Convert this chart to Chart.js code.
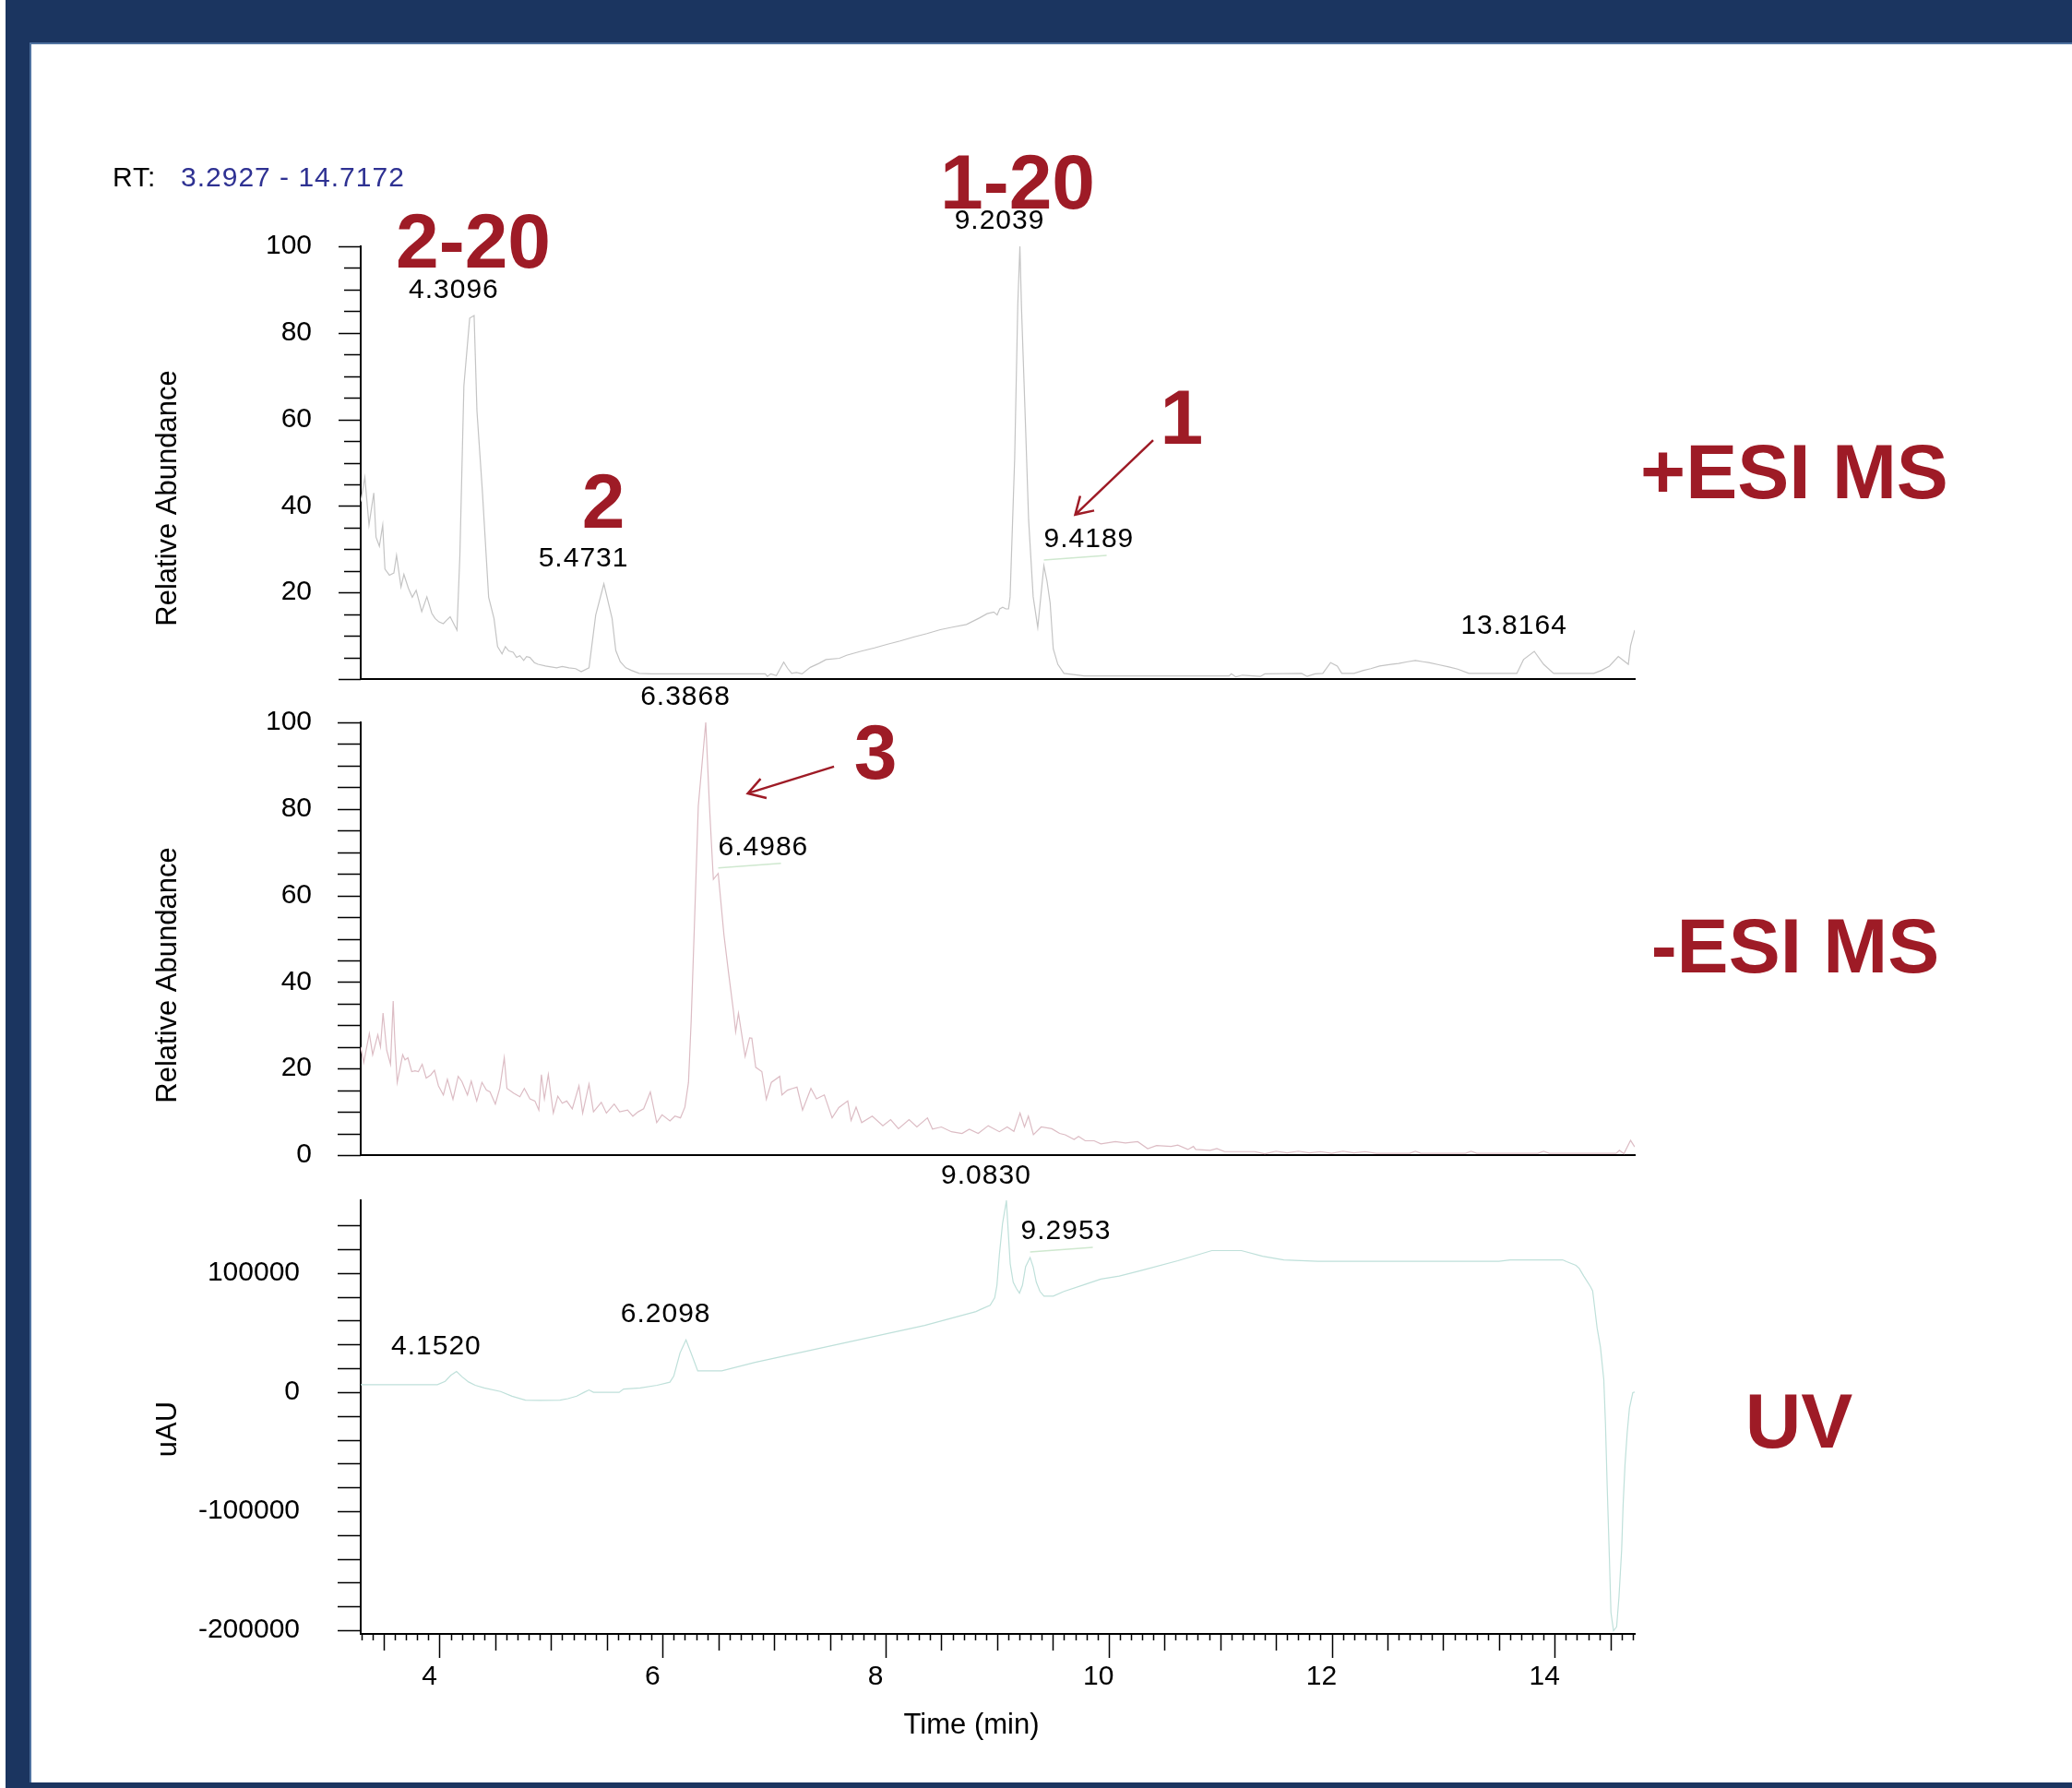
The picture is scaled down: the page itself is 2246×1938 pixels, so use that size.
<!DOCTYPE html>
<html>
<head>
<meta charset="utf-8">
<script src="https://cdn.jsdelivr.net/npm/chart.js@4.4.1/dist/chart.umd.min.js"></script>
<style>
  html, body { margin: 0; padding: 0; background: #fff; }
  body { width: 2246px; height: 1938px; position: relative; overflow: hidden; }
  .navy { position: absolute; background: #1b3560; }
  .edge { position: absolute; background: #5073a0; }
  canvas { position: absolute; left: 0; top: 0; }
</style>
</head>
<body>
<div class="navy" style="left:6px;top:0;width:26px;height:1938px"></div>
<div class="edge" style="left:32px;top:46px;width:2px;height:1886px"></div>
<div class="navy" style="left:32px;top:0;width:2214px;height:46px"></div>
<div class="edge" style="left:34px;top:46px;width:2212px;height:2px"></div>
<div class="navy" style="left:6px;top:1932px;width:2240px;height:6px"></div>

<canvas id="posChart" width="2246" height="1938"></canvas>
<canvas id="negChart" width="2246" height="1938"></canvas>
<canvas id="uvChart" width="2246" height="1938"></canvas>

<script>
// +ESI MS trace: retention time (min) and relative abundance (%)
const posTime = [3.2927, 3.33, 3.367, 3.41, 3.43, 3.46, 3.49, 3.51, 3.55, 3.59,
  3.614, 3.654, 3.68, 3.72, 3.755, 3.79, 3.84, 3.886, 3.93, 3.96,
  3.995, 4.034, 4.06, 4.095, 4.156, 4.182, 4.218, 4.27, 4.3096, 4.335,
  4.384, 4.44, 4.488, 4.52, 4.56, 4.59, 4.62, 4.66, 4.69, 4.72,
  4.754, 4.78, 4.81, 4.85, 4.883, 4.95, 5.05, 5.1, 5.16, 5.22,
  5.27, 5.34, 5.4, 5.4731, 5.547, 5.58, 5.62, 5.67, 5.72, 5.79,
  5.9, 6.5, 6.92, 6.94, 6.97, 7.02, 7.086, 7.12, 7.157, 7.2,
  7.25, 7.324, 7.4, 7.465, 7.585, 7.65, 7.775, 7.9, 8.01, 8.13,
  8.25, 8.37, 8.49, 8.6, 8.725, 8.84, 8.91, 8.97, 9.0, 9.023,
  9.05, 9.078, 9.102, 9.116, 9.157, 9.185, 9.2039, 9.218, 9.255, 9.282,
  9.323, 9.364, 9.4189, 9.447, 9.475, 9.503, 9.544, 9.599, 9.7, 9.78,
  10.5, 11.08, 11.1, 11.14, 11.2, 11.36, 11.4, 11.73, 11.78, 11.85,
  11.92, 11.99, 12.05, 12.09, 12.2, 12.285, 12.35, 12.43, 12.53, 12.6,
  12.68, 12.75, 12.82, 12.87, 12.96, 13.05, 13.13, 13.23, 13.66, 13.72,
  13.8164, 13.9, 13.99, 14.35, 14.42, 14.49, 14.57, 14.66, 14.68, 14.7172];
const posAbund = [41, 46.6, 35.6, 43, 32.8, 30.7, 35.6, 25.4, 24, 24.5,
  28.6, 21.3, 24.2, 21, 18.9, 20.5, 15.6, 19, 15.2, 14,
  13.2, 12.8, 13.5, 14.4, 11.3, 28.6, 67.8, 83.4, 84, 62,
  43.3, 18.9, 14, 7.5, 5.8, 7.5, 6.5, 6.2, 5, 5.4,
  4.3, 5.2, 5, 3.8, 3.4, 3, 2.6, 2.9, 2.6, 2.4,
  1.7, 2.6, 14.8, 22, 14, 6.6, 4, 2.6, 2, 1.3,
  1.2, 1.2, 1.2, 0.6, 1.2, 0.8, 3.9, 2.5, 1.3, 1.5,
  1.2, 2.7, 3.6, 4.5, 4.8, 5.5, 6.4, 7.2, 8, 8.8,
  9.7, 10.5, 11.4, 12, 12.6, 14.1, 15.1, 15.5, 14.8, 16.2,
  16.6, 16.2, 16.2, 19, 51, 86.6, 100, 86, 58, 36.8,
  19, 11.9, 26.2, 22.6, 17.6, 7, 3.4, 1.3, 1, 0.7,
  0.7, 0.7, 1.2, 0.5, 0.9, 0.6, 1.2, 1.3, 0.6, 1.2,
  1.3, 3.8, 3, 1.3, 1.3, 2, 2.4, 3, 3.4, 3.6,
  4, 4.3, 4, 3.8, 3.3, 2.8, 2.3, 1.3, 1.3, 4.5,
  6.4, 3.4, 1.3, 1.3, 2, 3, 5.2, 3.4, 7.7, 11.3];

// -ESI MS trace
const negTime = [3.2927, 3.32, 3.37, 3.40, 3.446, 3.47, 3.493, 3.526, 3.56, 3.584,
  3.598, 3.62, 3.669, 3.69, 3.716, 3.75, 3.78, 3.81, 3.844, 3.88,
  3.92, 3.954, 3.99, 4.034, 4.07, 4.12, 4.167, 4.2, 4.25, 4.284,
  4.333, 4.38, 4.42, 4.452, 4.5, 4.54, 4.58, 4.604, 4.666, 4.72,
  4.76, 4.81, 4.855, 4.89, 4.913, 4.94, 4.975, 5.02, 5.06, 5.1,
  5.14, 5.19, 5.25, 5.283, 5.34, 5.38, 5.45, 5.496, 5.566, 5.615,
  5.686, 5.733, 5.78, 5.83, 5.89, 5.947, 5.995, 6.066, 6.11, 6.16,
  6.2, 6.232, 6.256, 6.284, 6.32, 6.3868, 6.42, 6.455, 6.4986, 6.55,
  6.59, 6.636, 6.655, 6.68, 6.74, 6.78, 6.80, 6.835, 6.89, 6.93,
  6.975, 7.05, 7.07, 7.12, 7.165, 7.205, 7.255, 7.33, 7.38, 7.45,
  7.52, 7.58, 7.66, 7.69, 7.735, 7.785, 7.88, 7.975, 8.045, 8.115,
  8.21, 8.28, 8.375, 8.42, 8.5, 8.59, 8.685, 8.75, 8.83, 8.92,
  9.02, 9.09, 9.15, 9.205, 9.245, 9.28, 9.325, 9.395, 9.49, 9.56,
  9.61, 9.69, 9.73, 9.79, 9.87, 9.93, 10.06, 10.15, 10.26, 10.35,
  10.43, 10.56, 10.62, 10.71, 10.76, 10.78, 10.91, 10.97, 11.04, 11.31,
  11.4, 11.5, 11.6, 11.7, 11.8, 11.9, 12.0, 12.1, 12.2, 12.3,
  12.4, 12.7, 12.75, 12.8, 13.2, 13.25, 13.3, 13.85, 13.9, 13.95,
  14.55, 14.58, 14.62, 14.68, 14.7172];
const negAbund = [25, 21.4, 28.1, 23.2, 27.8, 25, 32.8, 24.2, 21, 35.6,
  26.7, 16.8, 23.2, 22, 22.5, 19.3, 19.5, 19.3, 21, 17.8,
  18.5, 19.6, 16, 13.9, 17.5, 12.9, 18.2, 17, 13.9, 17.1,
  12.5, 16.8, 15, 14.6, 11.8, 15.5, 22.5, 15.4, 14.3, 13.5,
  15.4, 13, 12.5, 10.4, 18.6, 13, 18.6, 9.7, 13.6, 12,
  12.5, 10.7, 16, 9.7, 16.4, 10, 12.2, 9.7, 11.8, 10,
  10.4, 9, 10, 10.7, 14.6, 7.5, 9.3, 7.9, 9, 8.6,
  11.1, 16.8, 31, 52.3, 80.7, 100, 80.7, 63.7, 65.1, 50.9,
  42.4, 33.1, 28.5, 32.8, 22.8, 27.1, 27, 20.3, 19.3, 12.9,
  16.8, 18.2, 13.9, 15, 15.4, 15.7, 10.4, 15.4, 13, 13.9,
  8.6, 11, 12.5, 8, 11.1, 7.5, 9, 6.8, 8.2, 6.1,
  8.2, 6.5, 8.6, 6, 6.5, 5.4, 5, 6, 5, 6.8,
  5.4, 6.5, 5.5, 9.7, 6.5, 9, 4.7, 6.5, 6.1, 5,
  4.7, 3.6, 4.3, 3.3, 3.3, 2.6, 3.1, 2.8, 3.1, 1.5,
  2.2, 2, 2.3, 1.3, 2, 1.3, 1.1, 1.5, 0.8, 0.8,
  0.3, 0.9, 0.5, 0.9, 0.5, 0.8, 0.4, 0.9, 0.5, 0.8,
  0.4, 0.4, 0.9, 0.4, 0.4, 0.9, 0.4, 0.4, 0.9, 0.4,
  0.4, 1.1, 0.3, 3.4, 1.9];

// UV trace (uAU)
const uvTime = [3.2927, 3.98, 4.05, 4.1, 4.152, 4.2, 4.26, 4.32, 4.4, 4.547,
  4.65, 4.77, 4.9, 5.08, 5.15, 5.23, 5.3, 5.34, 5.38, 5.61,
  5.65, 5.8, 5.95, 6.065, 6.1, 6.156, 6.2098, 6.255, 6.315, 6.53,
  6.83, 7.59, 8.35, 8.81, 8.854, 8.937, 8.978, 8.998, 9.02, 9.048,
  9.083, 9.1, 9.117, 9.144, 9.172, 9.2, 9.227, 9.255, 9.2953, 9.323,
  9.351, 9.384, 9.42, 9.503, 9.599, 9.764, 9.93, 10.095, 10.29, 10.62,
  10.925, 11.19, 11.38, 11.57, 11.875, 13.5, 13.6, 14.07, 14.107, 14.19,
  14.22, 14.26, 14.32, 14.34, 14.38, 14.41, 14.44, 14.455, 14.47, 14.49,
  14.504, 14.527, 14.555, 14.576, 14.6, 14.613, 14.63, 14.65, 14.67, 14.7,
  14.7172];
const uvSignal = [6200, 6200, 9000, 14000, 17300, 13000, 8500, 5700, 3500, 500,
  -3500, -6700, -6900, -6700, -5500, -3400, 0, 1800, -200, -200,
  2600, 3500, 5700, 8300, 13400, 32800, 43900, 32800, 17800, 17800,
  25000, 40500, 56000, 67600, 69500, 72900, 79300, 89700, 115500, 141300,
  160700, 133500, 107700, 92200, 87000, 83100, 89700, 105200, 113000, 105200,
  92200, 84500, 80600, 80600, 84500, 89700, 94900, 97400, 102000, 110300,
  118800, 118800, 114000, 111000, 109800, 109800, 111000, 111000, 109500, 106400,
  103800, 97400, 88600, 85000, 53800, 37600, 10400, -27000, -78000, -139000,
  -185000, -200300, -197000, -172000, -132400, -95000, -61000, -33800, -13400, -500,
  0];

// labelled ticks
const timeTicks = [4, 6, 8, 10, 12, 14];
const posTicks = [20, 40, 60, 80, 100];
const negTicks = [0, 20, 40, 60, 80, 100];
const uvTicks = [-200000, -100000, 0, 100000];

// labelled apexes [time, value]; shoulder labels also get a leader line
const posPeaks = [[4.3096, 84], [5.4731, 22], [9.2039, 100], [13.8164, 6.4]];
const posShoulders = [[9.4189, 26.2, 0]];
const negPeaks = [[6.3868, 100]];
const negShoulders = [[6.4986, 65.1, 0]];
const uvPeaks = [[4.1520, 17300], [6.2098, 43900], [9.0830, 160700]];
const uvShoulders = [[9.2953, 113000, -10]];

// compound labels in red, placed in data units of their panel
const posTags = [
  { text: '2-20', t: 4.302, v: 95.2 },
  { text: '1-20', t: 9.183, v: 108.7 },
  { text: '2', t: 5.469, v: 35 },
  { text: '1', t: 10.655, v: 54.4 }
];
const negTags = [{ text: '3', t: 7.909, v: 87 }];
const posArrows = [{ from: [10.399, 55.2], to: [9.70, 38.0] }];
const negArrows = [{ from: [7.537, 89.8], to: [6.764, 83.6] }];

const FONT = '"Liberation Sans", Arial, Helvetica, sans-serif';
const RED = '#9e1b26';
Chart.defaults.font.family = FONT;
Chart.defaults.font.size = 30;
Chart.defaults.color = '#000';

// draws tick marks, peak labels, arrows and the other annotations
const chartDecor = {
  id: 'chartDecor',
  afterDraw(chart, args, o) {
    const { ctx, chartArea: area } = chart;
    const xs = chart.scales.x, ys = chart.scales.y;
    ctx.save();

    // y tick marks (major and minor)
    ctx.strokeStyle = '#000';
    ctx.lineWidth = 1.5;
    ctx.beginPath();
    for (let v = o.yFrom; v <= o.yTo; v += o.yStep) {
      const py = Math.round(ys.getPixelForValue(v)) + 0.5;
      const len = Math.abs(v % o.yMajor) === 0 ? o.majorLen : o.minorLen;
      ctx.moveTo(area.left - len, py);
      ctx.lineTo(area.left, py);
    }
    // time axis ticks every 0.1 min, longer every 0.5 and 2 min
    if (o.timeTicks) {
      for (let k = Math.ceil(xs.min * 10); k <= Math.floor(xs.max * 10); k++) {
        const px = Math.round(xs.getPixelForValue(k / 10)) + 0.5;
        const len = k % 20 === 0 ? 26 : (k % 5 === 0 ? 18 : 7);
        ctx.moveTo(px, area.bottom);
        ctx.lineTo(px, area.bottom + len);
      }
    }
    ctx.stroke();

    // apex labels
    ctx.font = '30px ' + FONT;
    ctx.letterSpacing = '1px';
    ctx.fillStyle = '#000';
    ctx.textBaseline = 'middle';
    ctx.textAlign = 'center';
    (o.peaks || []).forEach(([t, v]) => {
      ctx.fillText(t.toFixed(4), xs.getPixelForValue(t) - 22, ys.getPixelForValue(v) - 27);
    });
    ctx.textAlign = 'left';
    (o.shoulders || []).forEach(([t, v, dx]) => {
      const px = xs.getPixelForValue(t), py = ys.getPixelForValue(v);
      ctx.fillStyle = '#000';
      ctx.fillText(t.toFixed(4), px + dx, py - 28);
      ctx.strokeStyle = '#cfe8cf';
      ctx.lineWidth = 1.5;
      ctx.beginPath();
      ctx.moveTo(px, py - 6);
      ctx.lineTo(px + 68, py - 11);
      ctx.stroke();
    });
    ctx.letterSpacing = '0px';

    // red compound labels and arrows
    ctx.fillStyle = RED;
    ctx.font = 'bold 84px ' + FONT;
    ctx.textAlign = 'center';
    ctx.textBaseline = 'alphabetic';
    (o.tags || []).forEach(tag => {
      ctx.fillText(tag.text, xs.getPixelForValue(tag.t), ys.getPixelForValue(tag.v));
    });
    ctx.strokeStyle = RED;
    ctx.lineWidth = 2.5;
    (o.arrows || []).forEach(a => {
      const x1 = xs.getPixelForValue(a.from[0]), y1 = ys.getPixelForValue(a.from[1]);
      const x2 = xs.getPixelForValue(a.to[0]), y2 = ys.getPixelForValue(a.to[1]);
      const ang = Math.atan2(y1 - y2, x1 - x2);
      ctx.beginPath();
      ctx.moveTo(x1, y1);
      ctx.lineTo(x2, y2);
      ctx.moveTo(x2 + 21 * Math.cos(ang + 0.55), y2 + 21 * Math.sin(ang + 0.55));
      ctx.lineTo(x2, y2);
      ctx.lineTo(x2 + 21 * Math.cos(ang - 0.55), y2 + 21 * Math.sin(ang - 0.55));
      ctx.stroke();
    });

    // mode label on the right
    if (o.side) ctx.fillText(o.side.text, o.side.x, o.side.y);

    // axis titles
    ctx.fillStyle = '#000';
    ctx.font = '31px ' + FONT;
    ctx.textBaseline = 'middle';
    if (o.yTitle) {
      ctx.save();
      ctx.translate(o.yTitle.x, o.yTitle.y);
      ctx.rotate(-Math.PI / 2);
      ctx.fillText(o.yTitle.text, 0, 0);
      ctx.restore();
    }
    if (o.xTitle) ctx.fillText(o.xTitle.text, o.xTitle.x, o.xTitle.y);

    // retention time range header
    if (o.header) {
      ctx.font = '30px ' + FONT;
      ctx.letterSpacing = '1px';
      ctx.textAlign = 'left';
      ctx.textBaseline = 'alphabetic';
      ctx.fillText('RT:', 122, 202);
      ctx.fillStyle = '#2e3192';
      ctx.fillText(xs.min.toFixed(4) + ' - ' + xs.max.toFixed(4), 196, 202);
    }
    ctx.restore();
  }
};

function makeChart(id, times, values, color, cfg) {
  const points = times.map((t, i) => ({ x: t, y: values[i] }));
  return new Chart(document.getElementById(id), {
    type: 'line',
    data: {
      datasets: [{
        data: points,
        borderColor: color,
        borderWidth: 1.2,
        pointRadius: 0,
        tension: 0,
        fill: false
      }]
    },
    options: {
      responsive: false,
      animation: false,
      devicePixelRatio: 1,
      layout: { padding: { left: 0, right: 474, top: cfg.top, bottom: cfg.bottom } },
      plugins: { legend: { display: false }, tooltip: { enabled: false }, chartDecor: cfg.decor },
      scales: {
        x: {
          type: 'linear',
          min: 3.2927,
          max: 14.7172,
          grid: { display: true, drawOnChartArea: false, drawTicks: false },
          border: { display: true, color: '#000', width: 2 },
          ticks: { display: cfg.showTime, padding: 29, labelOffset: -11, maxRotation: 0, callback: v => String(v) },
          afterBuildTicks: s => { s.ticks = timeTicks.map(v => ({ value: v })); },
          afterFit: s => { s.height = cfg.showTime ? 100 : 0; }
        },
        y: {
          min: cfg.yMin,
          max: cfg.yMax,
          grid: { display: true, drawOnChartArea: false, drawTicks: false },
          border: { display: true, color: '#000', width: 2 },
          ticks: { padding: cfg.labelPad, callback: v => String(v) },
          afterBuildTicks: s => { s.ticks = cfg.yTicks.map(v => ({ value: v })); },
          afterFit: s => { s.width = 391; }
        }
      }
    },
    plugins: [chartDecor]
  });
}

// +ESI MS panel
makeChart('posChart', posTime, posAbund, '#c4c4c4', {
  top: 267, bottom: 1202, yMin: 0, yMax: 100, yTicks: posTicks, labelPad: 53, showTime: false,
  decor: {
    yFrom: 0, yTo: 100, yStep: 5, yMajor: 20, majorLen: 24, minorLen: 18,
    peaks: posPeaks, shoulders: posShoulders, tags: posTags, arrows: posArrows,
    side: { text: '+ESI MS', x: 1945, y: 540 },
    yTitle: { text: 'Relative Abundance', x: 182, y: 540 },
    header: true
  }
});

// -ESI MS panel
makeChart('negChart', negTime, negAbund, '#dcbcc4', {
  top: 783, bottom: 686, yMin: 0, yMax: 100, yTicks: negTicks, labelPad: 53, showTime: false,
  decor: {
    yFrom: 0, yTo: 100, yStep: 5, yMajor: 20, majorLen: 25, minorLen: 25,
    peaks: negPeaks, shoulders: negShoulders, tags: negTags, arrows: negArrows,
    side: { text: '-ESI MS', x: 1946, y: 1054 },
    yTitle: { text: 'Relative Abundance', x: 182, y: 1057 }
  }
});

// UV panel
makeChart('uvChart', uvTime, uvSignal, '#bfe0da', {
  top: 1301, bottom: 67, yMin: -203000, yMax: 161000, yTicks: uvTicks, labelPad: 66, showTime: true,
  decor: {
    yFrom: -200000, yTo: 140000, yStep: 20000, yMajor: 100000, majorLen: 25, minorLen: 25,
    timeTicks: true,
    peaks: uvPeaks, shoulders: uvShoulders,
    side: { text: 'UV', x: 1950, y: 1569 },
    yTitle: { text: 'uAU', x: 182, y: 1549 },
    xTitle: { text: 'Time (min)', x: 1053, y: 1870 }
  }
});
</script>
</body>
</html>
